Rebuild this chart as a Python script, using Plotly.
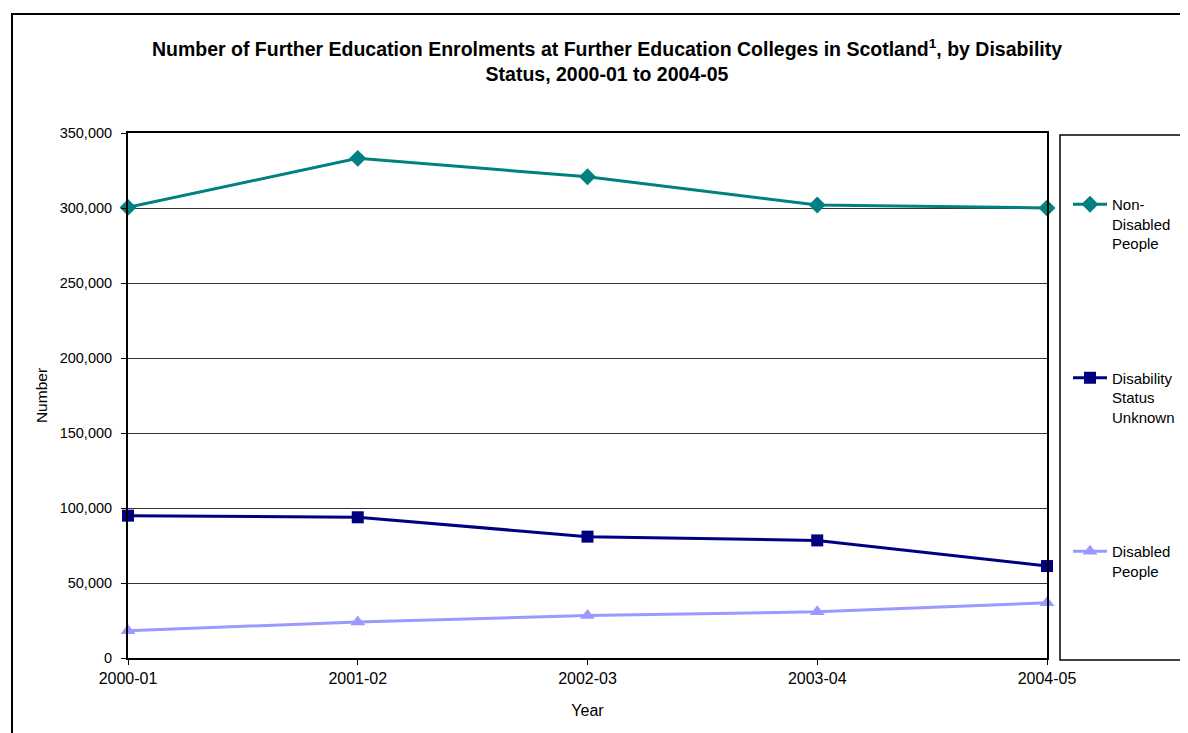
import plotly.graph_objects as go

years = ["2000-01", "2001-02", "2002-03", "2003-04", "2004-05"]
non_disabled = [300400, 333100, 320800, 302000, 300000]
status_unknown = [94900, 93800, 80900, 78400, 61300]
disabled = [18200, 24000, 28400, 30800, 36800]

series_names = ["Non-<br>Disabled<br>People", "Disability<br>Status<br>Unknown", "Disabled<br>People"]
colors = ["#008080", "#000080", "#9999FF"]
symbols = ["diamond", "square", "triangle-up"]
msizes = [13, 12, 13]

W, H = 1188, 733
OFF = 8  # page body margin
# plot area in screen pixels
SL, SR, ST, SB = 128, 1047, 133, 658
L, R, T, B = SL - OFF, SR - OFF, ST - OFF, SB - OFF
pw, ph = R - L, B - T

def px(x):
    return (x - OFF - L) / pw

def py(y):
    return (B - (y - OFF)) / ph

fig = go.Figure()
for i, (name, vals) in enumerate(zip(series_names, [non_disabled, status_unknown, disabled])):
    fig.add_trace(go.Scatter(
        x=years, y=vals, name=name, mode="lines+markers",
        line=dict(color=colors[i], width=3),
        marker=dict(symbol=symbols[i], size=msizes[i], color=colors[i]),
        cliponaxis=False, legendgroup=f"g{i}",
    ))

font_family = "Liberation Sans, Arial, sans-serif"

fig.update_layout(
    width=W, height=H,
    margin=dict(l=L, r=W - R, t=T, b=H - B),
    paper_bgcolor="white", plot_bgcolor="white",
    font=dict(family=font_family, size=14, color="black"),
    title=dict(
        text="<b>Number of Further Education Enrolments at Further Education Colleges in Scotland<sup>1</sup>, by Disability<br>Status, 2000-01 to 2004-05</b>",
        x=(607 - OFF) / W, xanchor="center", y=1 - (56 - OFF) / H, yanchor="top",
        font=dict(size=19.5, family=font_family, color="black"),
    ),
    xaxis=dict(
        type="category", range=[0, 4], showgrid=False,
        showline=True, linecolor="black", linewidth=2, mirror=True,
        ticks="outside", ticklen=5, tickcolor="black",
        title=dict(text="Year", standoff=19, font=dict(size=16)),
        tickfont=dict(size=16),
    ),
    yaxis=dict(
        range=[0, 350000], dtick=50000, tickformat=",",
        showgrid=True, gridcolor="#333333", gridwidth=1,
        showline=True, linecolor="black", linewidth=2, mirror=True,
        ticks="outside", ticklen=5, tickcolor="black", ticklabelstandoff=6,
        title=dict(text="Number", standoff=8, font=dict(size=15.5)),
        tickfont=dict(size=14.5), zeroline=False,
    ),
    showlegend=True,
    legend=dict(
        x=px(1068), xanchor="left", y=py(188), yanchor="top",
        traceorder="grouped", tracegroupgap=112, valign="top",
        font=dict(size=15), bgcolor="rgba(0,0,0,0)", borderwidth=0,
        itemwidth=34,
    ),
    shapes=[
        dict(type="rect", xref="paper", yref="paper",
             x0=px(12), y0=py(760), x1=px(1260), y1=py(14),
             line=dict(color="black", width=2), fillcolor="rgba(0,0,0,0)", layer="below"),
        dict(type="rect", xref="paper", yref="paper",
             x0=px(1060), y0=py(660), x1=px(1260), y1=py(135),
             line=dict(color="black", width=1.5), fillcolor="rgba(0,0,0,0)", layer="below"),
    ],
)

fig.write_html("out.html")
